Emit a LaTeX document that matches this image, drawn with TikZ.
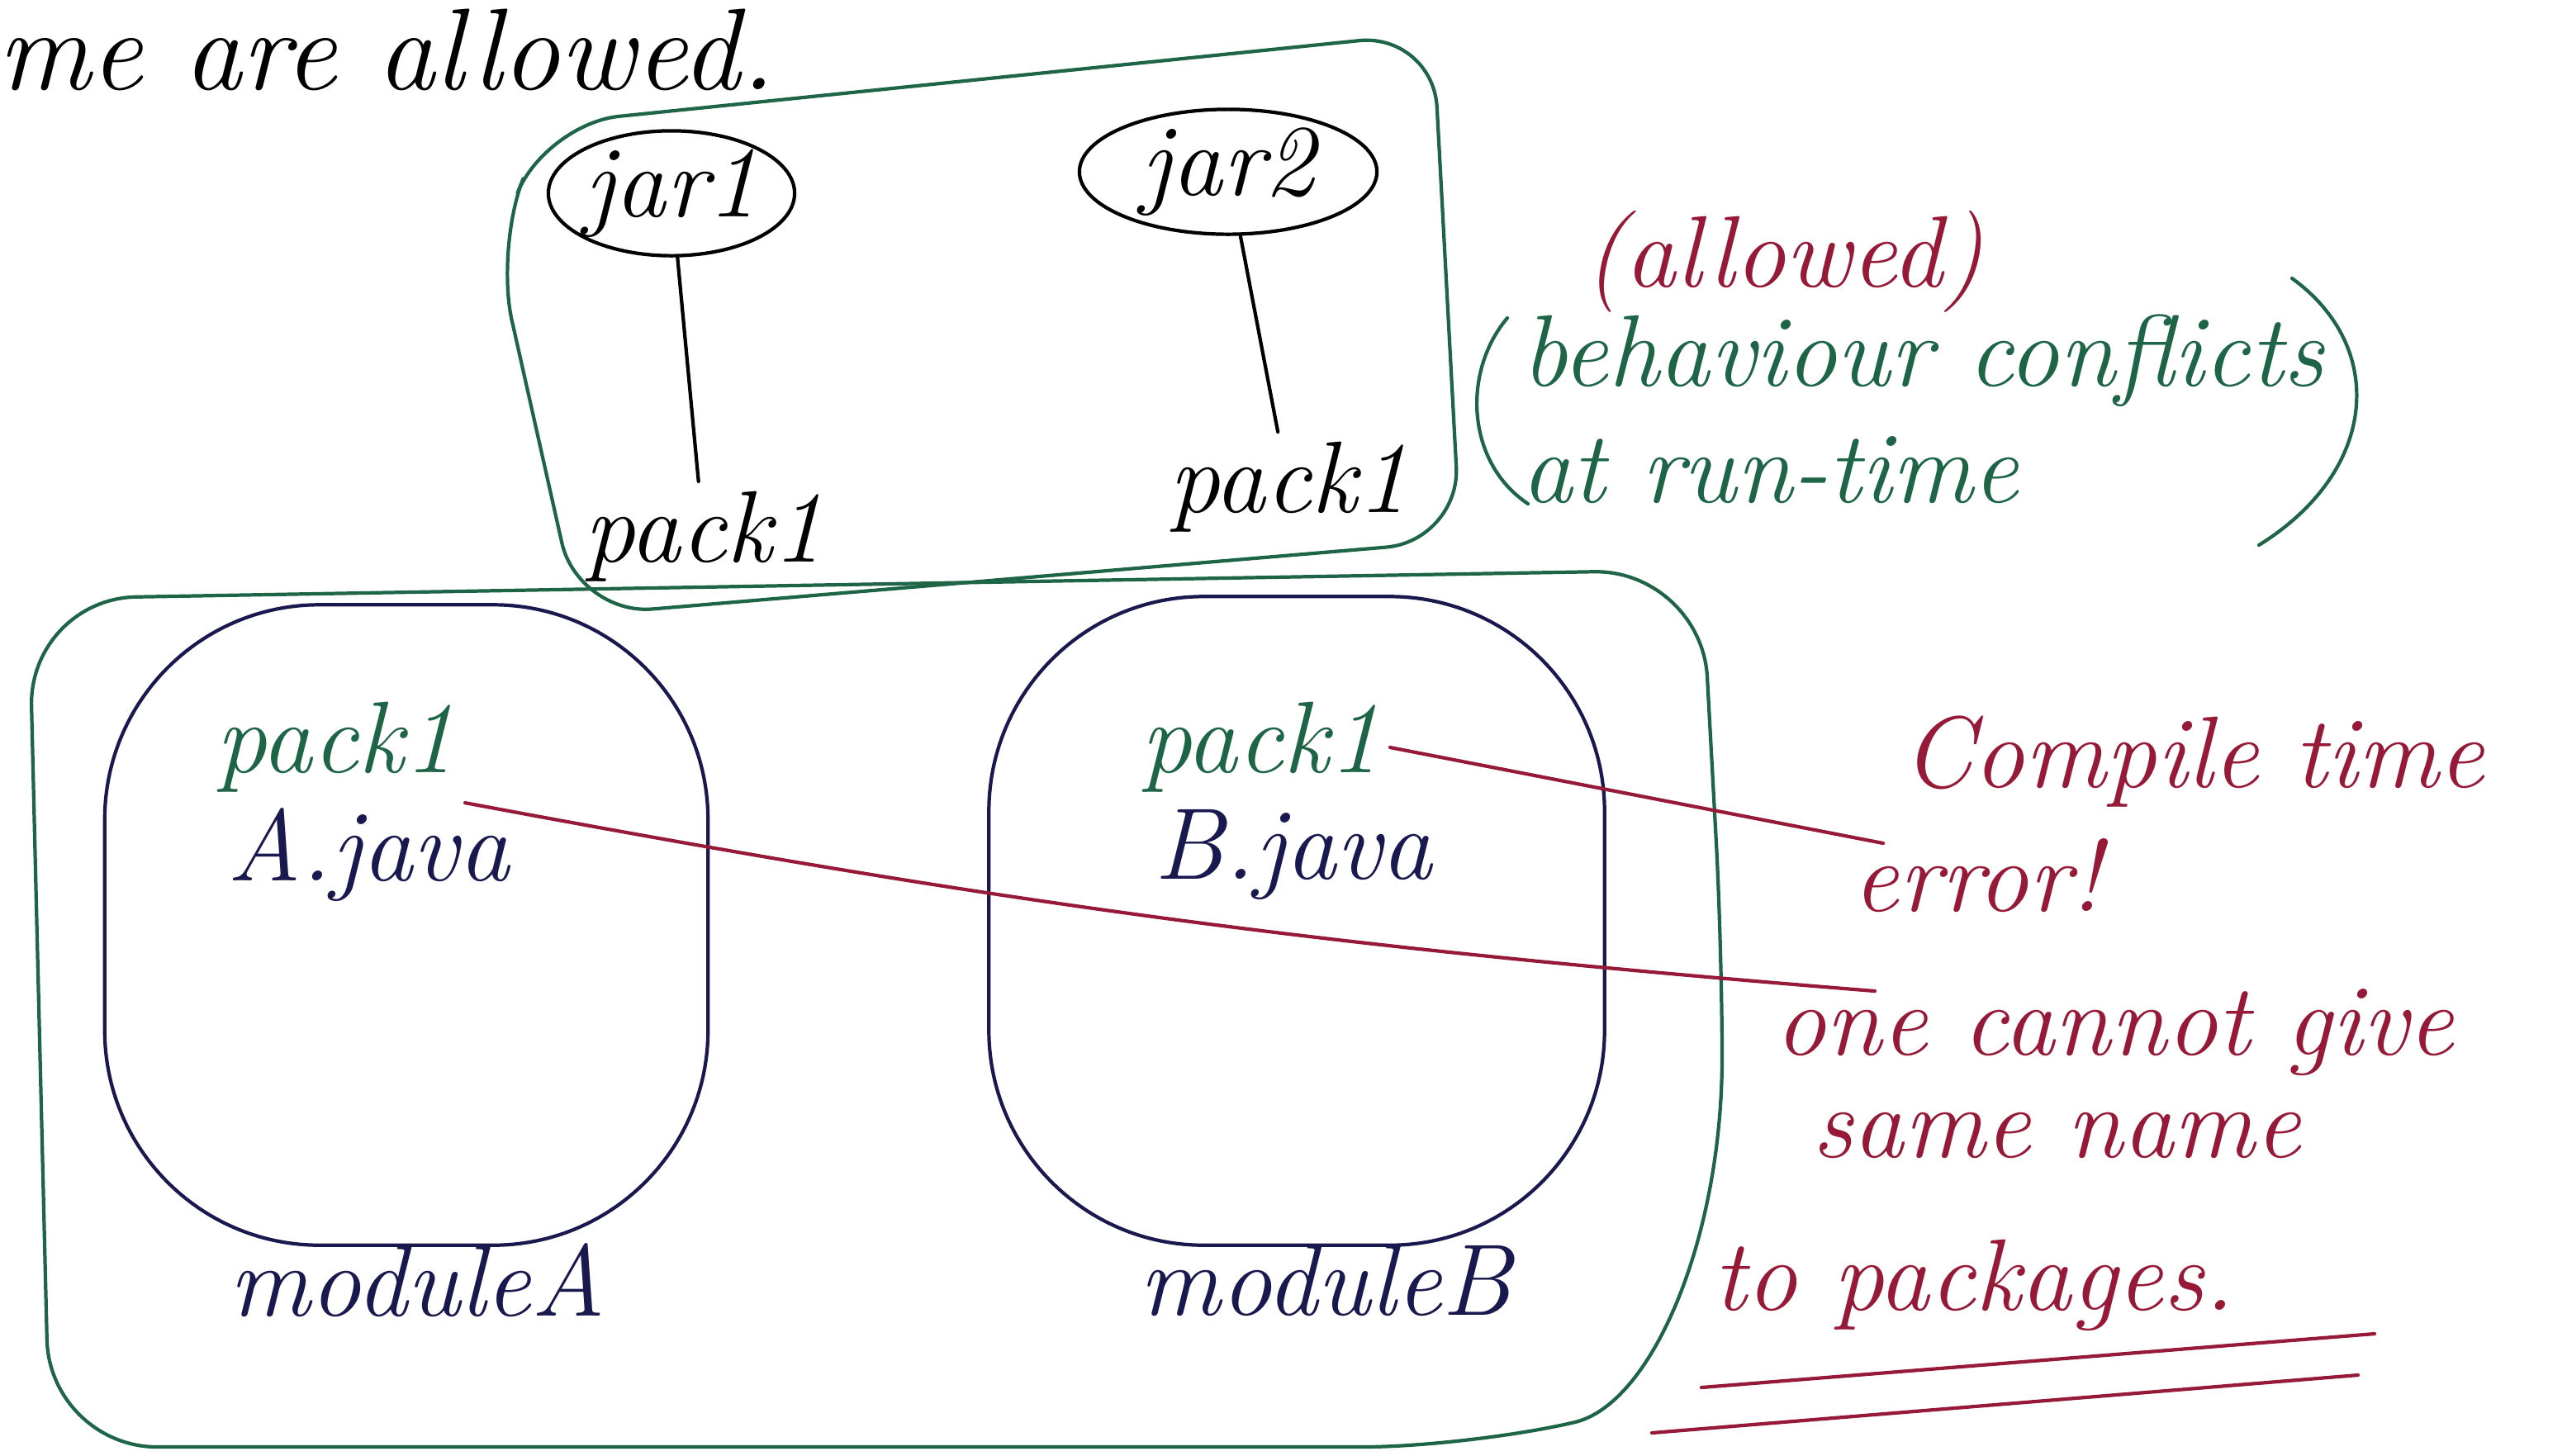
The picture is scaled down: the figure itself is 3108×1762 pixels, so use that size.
\documentclass[tikz,border=0pt]{standalone}
\usepackage{xcolor}
\usepackage{tikz}
\usetikzlibrary{positioning, shapes}

\definecolor{greenink}{RGB}{30,100,70}
\definecolor{navyink}{RGB}{25,25,80}
\definecolor{redink}{RGB}{150,25,55}

\begin{document}
\begin{tikzpicture}
        [
        x=0.01cm, y=-0.01cm,
        ink/.style = {line width=1.2pt, line cap=round, line join=round},
        hand/.style = {font=\fontsize{35}{40}\selectfont\itshape},
        jarnode/.style = {hand, ellipse, draw, ink, inner sep=0pt},
        modblob/.style = {draw=navyink, ink, rounded corners=2.6cm},
        greenpen/.style = {draw=greenink, ink},
        redpen/.style = {draw=redink, ink}
        ]
    \useasboundingbox (0,0) rectangle (3108,1762);

    \node[hand, anchor=west] (intro) at (-15,60) {\fontsize{40}{44}\selectfont me are allowed.};

    % upper box: two jars
    \draw[greenpen, rounded corners=0.9cm] (660,150) -- (1735,40) -- (1768,655) -- (700,745) -- (600,300) -- cycle;
    \node[jarnode, minimum width=2.06cm, minimum height=1.26cm] (jar1) at (813,234) {jar1};
    \node[jarnode, minimum width=3.6cm, minimum height=1.5cm] (jar2) at (1487,208) {jar2};
    \node[hand] (pk1) at (852,650) {pack1};
    \node[hand] (pk2) at (1560,590) {pack1};
    \draw[ink] (jar1) -- (pk1);
    \draw[ink] (jar2) -- (pk2);

    \node[hand, text=redink] (allowed) at (2160,317) {(allowed)};
    \node[hand, text=greenink, anchor=west, align=left] (runtime) at (1830,495)
        {behaviour conflicts\\at run-time};
    \draw[greenpen] (1825,385) .. controls (1770,450) and (1775,560) .. (1850,610);
    \draw[greenpen] (2775,337) .. controls (2890,420) and (2880,570) .. (2735,660);

    % lower box: two modules
    \draw[greenpen, rounded corners=1.3cm] (60,1752) -- (1780,1752) .. controls (2000,1700) and (2085,1500) .. (2085,1150)
        -- (2060,690) -- (35,725) -- cycle;
    \node[modblob, minimum width=7.3cm, minimum height=7.75cm] (circA) at (492,1120) {};
    \node[modblob, minimum width=7.45cm, minimum height=7.85cm] (circB) at (1570,1115) {};
    \node[hand, text=greenink] (pkA) at (406,905) {pack1};
    \node[hand, text=navyink] (javaA) at (446,1035) {A.java};
    \node[hand, text=greenink] (pkB) at (1526,905) {pack1};
    \node[hand, text=navyink] (javaB) at (1566,1035) {B.java};
    \node[hand, text=navyink] (modA) at (505,1550) {moduleA};
    \node[hand, text=navyink] (modB) at (1605,1550) {moduleB};

    % compile time note
    \node[hand, text=redink] (cte) at (2656,922) {Compile time};
    \node[hand, text=redink] (err) at (2394,1060) {error!};
    \node[hand, text=redink] (nogive) at (2560,1250) {one cannot give};
    \node[hand, text=redink] (same) at (2490,1375) {same name};
    \node[hand, text=redink] (topk) at (2390,1556) {to packages.};
    \coordinate (errA) at (2270,1200);
    \coordinate (errB) at (2280,1021);
    \draw[redpen] (pkA.south east) to[bend right=3] (errA);
    \draw[redpen] (pkB.east) -- (errB);
    \draw[redpen] (2060,1680) -- (2875,1615);
    \draw[redpen] (2000,1735) -- (2855,1665);
\end{tikzpicture}
\end{document}
